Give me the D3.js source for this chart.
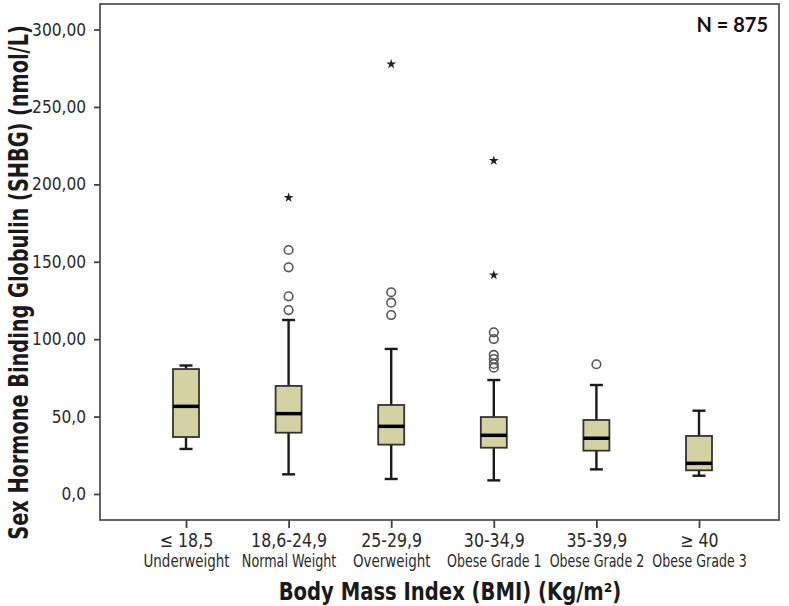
<!DOCTYPE html>
<html>
<head>
<meta charset="utf-8">
<script src="https://cdn.jsdelivr.net/npm/d3@7"></script>
<style>
  html, body { margin: 0; padding: 0; background: #fff; }
  svg { display: block; }
</style>
</head>
<body>
<svg id="chart" width="789" height="606"></svg>
<script>
// ---------- data ----------
const rangeLabels = ["≤ 18,5", "18,6-24,9", "25-29,9", "30-34,9", "35-39,9", "≥ 40"];
const classLabels = ["Underweight", "Normal Weight", "Overweight", "Obese Grade 1", "Obese Grade 2", "Obese Grade 3"];
const whiskerLow  = [29.1, 12.7, 9.7, 8.8, 15.9, 11.8];
const q1          = [36.8, 39.6, 31.9, 29.9, 28.0, 15.3];
const median      = [56.6, 51.9, 43.7, 37.9, 36.0, 19.8];
const q3          = [80.7, 69.8, 57.5, 49.7, 47.8, 37.5];
const whiskerHigh = [83.0, 112.4, 93.7, 73.6, 70.4, 53.8];
const outliers = [
  [],
  [118.8, 127.7, 146.4, 157.6],
  [115.6, 123.6, 130.3],
  [81.6, 84.0, 87.2, 89.8, 100.1, 104.4],
  [83.8],
  []
];
const extremes = [
  [],
  [191.4],
  [277.7],
  [141.4, 215.3],
  [],
  []
];
const yTicks = [0, 50, 100, 150, 200, 250, 300];
const yTickLabels = ["0,0", "50,0", "100,00", "150,00", "200,00", "250,00", "300,00"];
const yTitle = "Sex Hormone Binding Globulin (SHBG) (nmol/L)";
const xTitle = "Body Mass Index (BMI) (Kg/m²)";
const nLabel = "N = 875";

// ---------- layout ----------
const svg = d3.select("#chart");
const L = 100, R = 779, T = 4, B = 520;
const condensed = "'Liberation Sans Narrow', 'DejaVu Sans Condensed', 'Roboto', sans-serif";

const x = d3.scalePoint().domain(d3.range(rangeLabels.length)).range([L + 86, R - 80]).padding(0);
const y = d3.scaleLinear().domain([-16.8, 316.5]).range([B, T]);

const boxW = 26, capW = 13;
const fill = "#d4d2a3", ink = "#1a1a1a";

// squeeze text horizontally (along its own direction) to a target width, via a transform
function squeezeTo(node, targetW) {
  const w = node.getComputedTextLength();
  const f = Math.min(1, targetW / w);
  const x0 = +(node.getAttribute("x") || 0);
  node.setAttribute("x", x0 / f);
  const tr = node.getAttribute("transform") || "";
  node.setAttribute("transform", (tr + ` scale(${f},1)`).trim());
  return f;
}

// frame
svg.append("rect").attr("x", L).attr("y", T).attr("width", R - L).attr("height", B - T)
  .attr("fill", "none").attr("stroke", "#555").attr("stroke-width", 1.8);

// y axis
const yAxis = svg.append("g").attr("transform", `translate(${L},0)`)
  .call(d3.axisLeft(y).tickValues(yTicks).tickSize(6).tickPadding(8)
    .tickFormat((d, i) => yTickLabels[i]));
yAxis.select(".domain").remove();
yAxis.selectAll(".tick line").attr("stroke", "#444").attr("stroke-width", 1.8);
const yTexts = yAxis.selectAll(".tick text").attr("font-family", condensed).attr("font-size", 17.5)
  .attr("fill", "#2a2a2a");
let kY = 1;
yTexts.each(function(d, i) { if (yTickLabels[i] === "300,00") kY = 54 / this.getComputedTextLength(); });
yTexts.each(function() { squeezeTo(this, this.getComputedTextLength() * kY); });

// x axis
const xAxis = svg.append("g").attr("transform", `translate(0,${B})`)
  .call(d3.axisBottom(x).tickSize(8).tickFormat(""));
xAxis.select(".domain").remove();
xAxis.selectAll(".tick line").attr("stroke", "#444").attr("stroke-width", 1.8);
const t1s = [], t2s = [];
xAxis.selectAll(".tick").each(function(d, i) {
  const g = d3.select(this);
  t1s.push(g.append("text").attr("y", 27).attr("text-anchor", "middle")
    .attr("font-family", condensed).attr("font-size", 19).attr("fill", "#2a2a2a")
    .text(rangeLabels[i]).node());
  t2s.push(g.append("text").attr("y", 47.5).attr("text-anchor", "middle")
    .attr("font-family", condensed).attr("font-size", 17).attr("fill", "#2a2a2a")
    .text(classLabels[i]).node());
});
const kRange = 76 / t1s[1].getComputedTextLength();
const kClass = 86 / t2s[0].getComputedTextLength();
const maxClassW = x.step() - 8;
t1s.forEach(n => squeezeTo(n, n.getComputedTextLength() * kRange));
t2s.forEach(n => squeezeTo(n, Math.min(n.getComputedTextLength() * kClass, maxClassW)));

// boxes
const idx = d3.range(rangeLabels.length);
const g = svg.append("g");
idx.forEach(i => {
  const cx = x(i);
  g.append("line").attr("x1", cx).attr("x2", cx).attr("y1", y(q3[i])).attr("y2", y(whiskerHigh[i]))
    .attr("stroke", ink).attr("stroke-width", 2.4);
  g.append("line").attr("x1", cx).attr("x2", cx).attr("y1", y(q1[i])).attr("y2", y(whiskerLow[i]))
    .attr("stroke", ink).attr("stroke-width", 2.4);
  g.append("line").attr("x1", cx - capW / 2).attr("x2", cx + capW / 2)
    .attr("y1", y(whiskerHigh[i])).attr("y2", y(whiskerHigh[i]))
    .attr("stroke", ink).attr("stroke-width", 2.4);
  g.append("line").attr("x1", cx - capW / 2).attr("x2", cx + capW / 2)
    .attr("y1", y(whiskerLow[i])).attr("y2", y(whiskerLow[i]))
    .attr("stroke", ink).attr("stroke-width", 2.4);
  g.append("rect").attr("x", cx - boxW / 2).attr("y", y(q3[i]))
    .attr("width", boxW).attr("height", y(q1[i]) - y(q3[i]))
    .attr("fill", fill).attr("stroke", "#333").attr("stroke-width", 1.8);
  g.append("line").attr("x1", cx - boxW / 2).attr("x2", cx + boxW / 2)
    .attr("y1", y(median[i])).attr("y2", y(median[i]))
    .attr("stroke", "#000").attr("stroke-width", 3.5);
  outliers[i].forEach(v => {
    g.append("circle").attr("cx", cx).attr("cy", y(v)).attr("r", 4.3)
      .attr("fill", "none").attr("stroke", "#555").attr("stroke-width", 1.6);
  });
  extremes[i].forEach(v => {
    g.append("path").attr("d", d3.symbol().type(d3.symbolStar).size(30)())
      .attr("transform", `translate(${cx},${y(v)})`).attr("fill", "#222");
  });
});

// titles
const yt = svg.append("text").attr("transform", `translate(28,282.5) rotate(-90)`)
  .attr("text-anchor", "middle").attr("font-family", condensed).attr("font-weight", "bold")
  .attr("font-size", 27).attr("fill", "#1a1a1a").text(yTitle);
squeezeTo(yt.node(), 515);

const xt = svg.append("text").attr("x", 450).attr("y", 600).attr("text-anchor", "middle")
  .attr("font-family", condensed).attr("font-weight", "bold").attr("font-size", 24)
  .attr("fill", "#1a1a1a").text(xTitle);
squeezeTo(xt.node(), 343);

svg.append("text").attr("x", 768).attr("y", 32).attr("text-anchor", "end")
  .attr("font-family", "Lato, 'Open Sans', sans-serif").attr("font-weight", "bold")
  .attr("font-size", 20).attr("fill", "#111").text(nLabel);
</script>
</body>
</html>
